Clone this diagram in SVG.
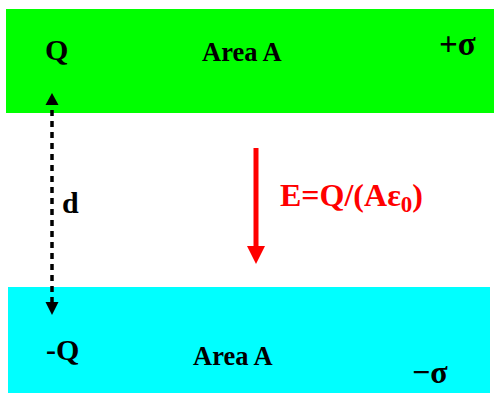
<svg xmlns="http://www.w3.org/2000/svg" width="494" height="395" viewBox="0 0 494 395">
<style>
.t{font-family:"Liberation Serif","Times New Roman",serif;font-weight:bold;fill:#000}
.r{fill:#ff0000}
</style>
<rect width="494" height="395" fill="#fff"/>
<g id="plate-top">
<rect x="6" y="9" width="488" height="104" fill="#00ff00"/>
<text class="t" x="45" y="60" font-size="30">Q</text>
<text class="t" x="202" y="61" font-size="26.5">Area A</text>
<text class="t" x="439" y="55" font-size="33">+σ</text>
</g>
<g id="plate-bottom">
<rect x="8" y="287" width="482" height="106" fill="#00ffff"/>
<text class="t" x="46" y="360" font-size="30">-Q</text>
<text class="t" x="193" y="365" font-size="26.5">Area A</text>
<text class="t" x="412" y="383" font-size="32">−σ</text>
</g>
<g id="connectors">
<line x1="52" y1="303" x2="52" y2="105" stroke="#000" stroke-width="3.5" stroke-dasharray="6,5"/>
<path d="M45.5,105L52,93L58.5,105z" fill="#000"/>
<path d="M45.5,302L52,315L58.5,302z" fill="#000"/>
<line x1="256" y1="148" x2="256" y2="248" stroke="#ff0000" stroke-width="5"/>
<path d="M247,246L256,264L265,246z" fill="#ff0000"/>
</g>
<g id="label-d"><text class="t" x="62" y="213" font-size="30">d</text></g>
<g id="label-E"><text class="t r" x="280" y="206" font-size="32">E=Q/(Aε<tspan font-size="23" dy="6">0</tspan><tspan dy="-6">)</tspan></text></g>
</svg>
